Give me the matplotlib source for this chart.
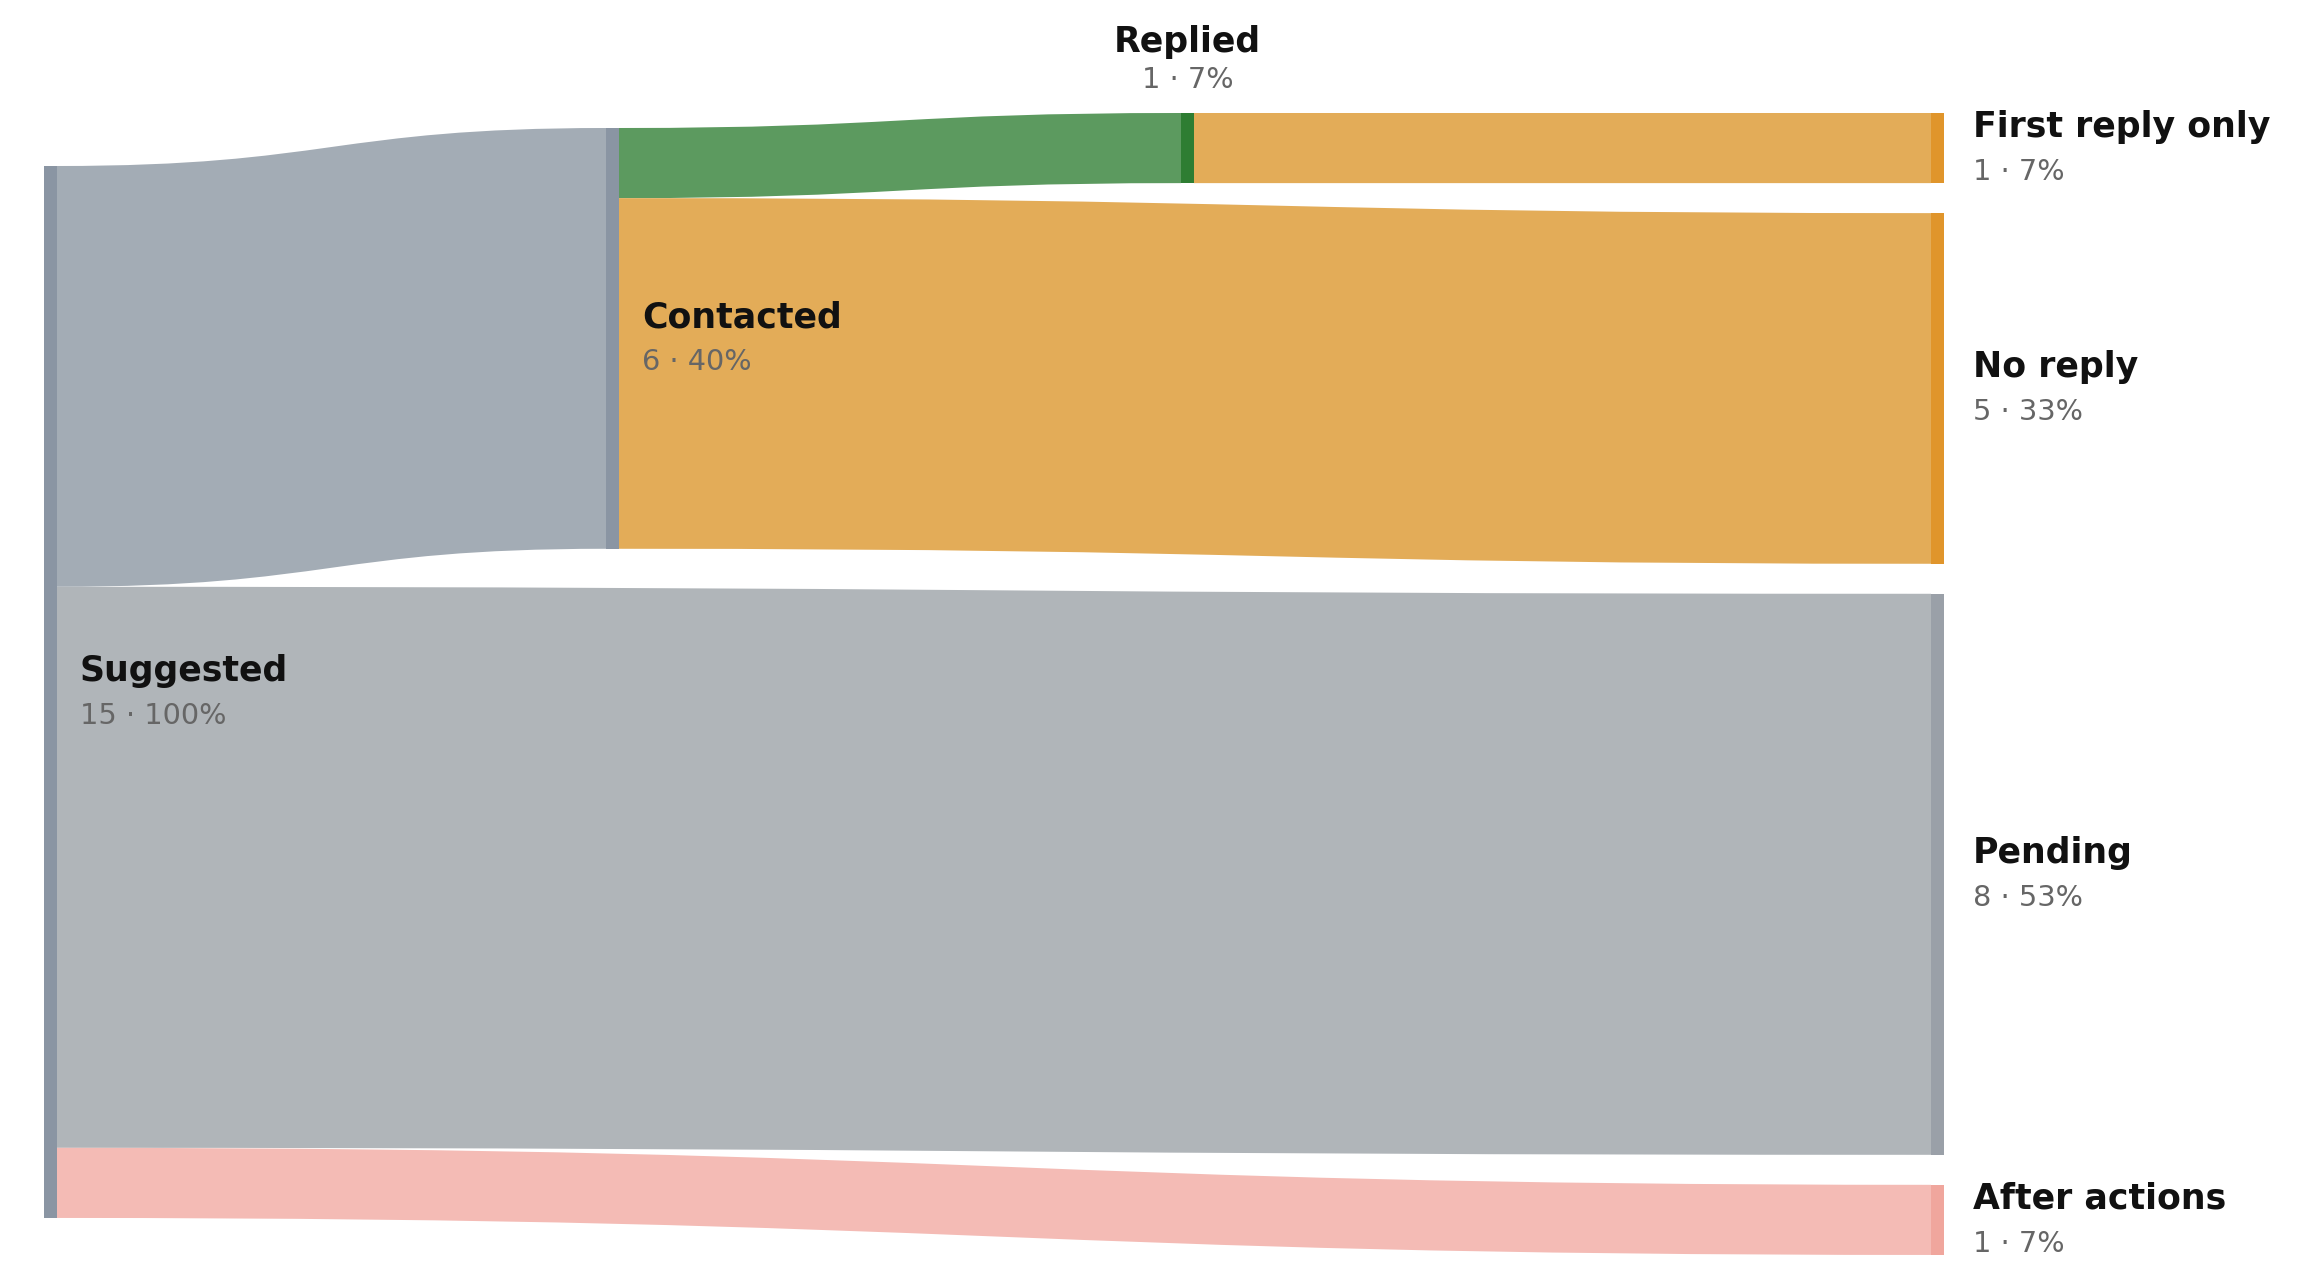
import matplotlib
matplotlib.use("Agg")
import matplotlib.pyplot as plt
from matplotlib.path import Path
from matplotlib.patches import PathPatch, Rectangle

# data
nodes = ["Suggested", "Contacted", "Replied", "First reply only",
         "No reply", "Pending", "After actions"]
node_values = [15, 6, 1, 1, 5, 8, 1]
total = 15

link_source = [0, 0, 0, 1, 1, 2]
link_target = [1, 5, 6, 2, 4, 3]
link_values = [6, 8, 1, 1, 5, 1]

# style / layout
node_colors = ["#8a95a3", "#8a95a3", "#2e7d32", "#e0952b",
               "#e0952b", "#9aa0a8", "#f0a69d"]
link_colors = ["#a3acb5", "#b0b5b9", "#f4bbb5", "#5c9a5f", "#e3ac58", "#e3ac58"]
node_col = [0, 1, 2, 3, 3, 3, 3]
col_x = [44, 606, 1181, 1931]
node_w = 13
unit = 70.13          # px per item
gap = 30
col_top = {0: 166, 1: 128, 2: 113, 3: 113}

W, H = 2317, 1280
fig = plt.figure(figsize=(W / 100, H / 100), dpi=100)
ax = fig.add_axes([0, 0, 1, 1])
ax.set_xlim(0, W)
ax.set_ylim(H, 0)
ax.axis("off")

# stack nodes in each column
node_y = {}
cursor = dict(col_top)
for i, v in enumerate(node_values):
    c = node_col[i]
    node_y[i] = cursor[c]
    cursor[c] += v * unit + gap

out_off = {i: node_y[i] for i in range(len(nodes))}
in_off = {i: node_y[i] for i in range(len(nodes))}

for s, t, v, col in zip(link_source, link_target, link_values, link_colors):
    h = v * unit
    x0 = col_x[node_col[s]] + node_w
    x1 = col_x[node_col[t]]
    y0 = out_off[s]
    y1 = in_off[t]
    out_off[s] += h
    in_off[t] += h
    xm = (x0 + x1) / 2
    verts = [(x0, y0), (xm, y0), (xm, y1), (x1, y1),
             (x1, y1 + h), (xm, y1 + h), (xm, y0 + h), (x0, y0 + h), (x0, y0)]
    codes = [Path.MOVETO, Path.CURVE4, Path.CURVE4, Path.CURVE4,
             Path.LINETO, Path.CURVE4, Path.CURVE4, Path.CURVE4, Path.CLOSEPOLY]
    ax.add_patch(PathPatch(Path(verts, codes), facecolor=col, edgecolor="none", zorder=1))

for i, name in enumerate(nodes):
    x = col_x[node_col[i]]
    y = node_y[i]
    h = node_values[i] * unit
    ax.add_patch(Rectangle((x, y), node_w, h, facecolor=node_colors[i],
                           edgecolor="none", zorder=2))
    value_txt = f"{node_values[i]} \u00b7 {round(node_values[i] / total * 100)}%"
    if name == "Replied":
        cx = x + node_w / 2
        ax.text(cx, y - 61, name, ha="center", va="baseline", fontsize=25,
                fontweight="bold", color="#111111", zorder=3)
        ax.text(cx, y - 25, value_txt, ha="center", va="baseline", fontsize=20.7,
                color="#666666", zorder=3)
    else:
        lx = x + node_w + (29 if node_col[i] == 3 else 23)
        cy = y + h / 2
        ax.text(lx, cy - 11, name, ha="left", va="baseline", fontsize=25,
                fontweight="bold", color="#111111", zorder=3)
        ax.text(lx, cy + 32, value_txt, ha="left", va="baseline", fontsize=20.7,
                color="#666666", zorder=3)

fig.savefig("out.png", dpi=100, facecolor="white")
